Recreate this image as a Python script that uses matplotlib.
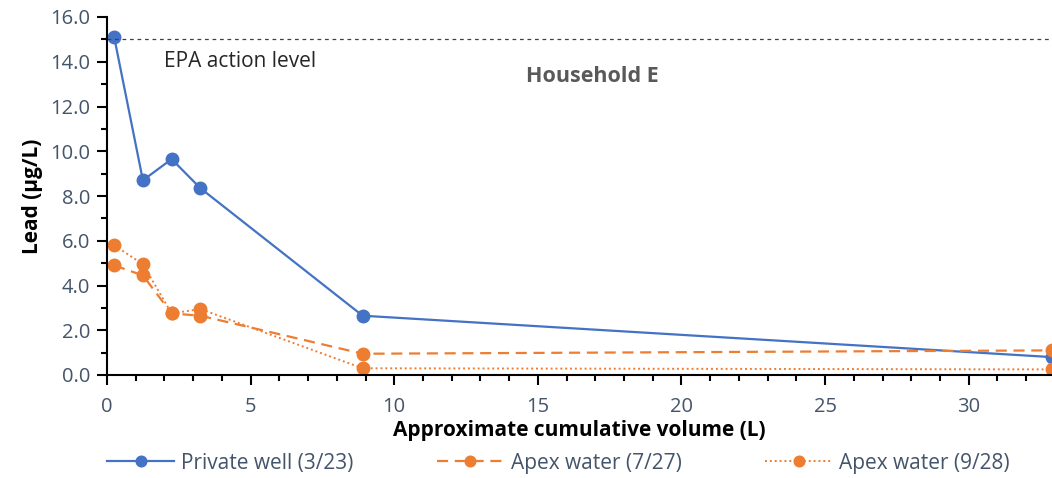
import matplotlib
matplotlib.use("Agg")
import matplotlib.pyplot as plt
from matplotlib.ticker import MultipleLocator, FormatStrFormatter

volume = [0.25, 1.25, 2.25, 3.25, 8.9, 32.9]
private_well = [15.1, 8.7, 9.65, 8.35, 2.65, 0.8]
apex_727 = [4.9, 4.45, 2.75, 2.65, 0.95, 1.1]
apex_928 = [5.8, 4.95, 2.75, 2.95, 0.3, 0.25]
epa_level = 15.0

blue = "#4472C4"
orange = "#ED7D31"
tick_col = "#44546A"

plt.rcParams['font.family'] = ['Open Sans', 'DejaVu Sans']

fig = plt.figure(figsize=(10.52, 4.78), dpi=100)
ax = fig.add_axes([107/1052, 1-375/478, 1-107/1052, (375-17)/478])

ax.plot(volume, private_well, color=blue, lw=1.6, marker='o', ms=9,
        label="Private well (3/23)", clip_on=True)
ax.plot(volume, apex_727, color=orange, lw=1.6, ls=(0, (5, 3)), marker='o', ms=9,
        label="Apex water (7/27)")
ax.plot(volume, apex_928, color=orange, lw=1.4, ls=(0, (1, 1.5)), marker='o', ms=9,
        label="Apex water (9/28)")
ax.axhline(epa_level, color="#404040", lw=0.9, ls=(0, (3, 3)))

ax.set_xlim(0, 32.9)
ax.set_ylim(0, 16)
ax.yaxis.set_major_locator(MultipleLocator(2))
ax.yaxis.set_minor_locator(MultipleLocator(1))
ax.yaxis.set_major_formatter(FormatStrFormatter('%.1f'))
ax.xaxis.set_major_locator(MultipleLocator(5))
ax.xaxis.set_minor_locator(MultipleLocator(1))

for s in ['top', 'right']:
    ax.spines[s].set_visible(False)
for s in ['left', 'bottom']:
    ax.spines[s].set_color('black')
    ax.spines[s].set_linewidth(1.5)

ax.tick_params(axis='both', which='major', direction='out', length=7, width=1.5,
               color='black', labelcolor=tick_col, labelsize=14.5)
ax.tick_params(axis='both', which='minor', direction='out', length=4, width=1.5,
               color='black')
ax.tick_params(axis='x', pad=9)
ax.tick_params(axis='y', pad=5)

ax.set_ylabel("Lead (µg/L)", fontsize=15, fontweight='bold', labelpad=5)
ax.set_xlabel("Approximate cumulative volume (L)", fontsize=15, fontweight='bold', labelpad=2)

ax.text(2.0, 13.75, "EPA action level", fontsize=15, color='#262626')
ax.text(14.6, 13.1, "Household E", fontsize=15.5, color='#595959', fontweight='bold')

leg = fig.legend(loc='center', bbox_to_anchor=(0.531, 1-463/478), ncol=3, frameon=False,
                 fontsize=15, handlelength=3.2, columnspacing=4, markerscale=0.85,
                 handletextpad=0.35)
for t in leg.get_texts():
    t.set_color(tick_col)

fig.savefig("out.png", dpi=100)
